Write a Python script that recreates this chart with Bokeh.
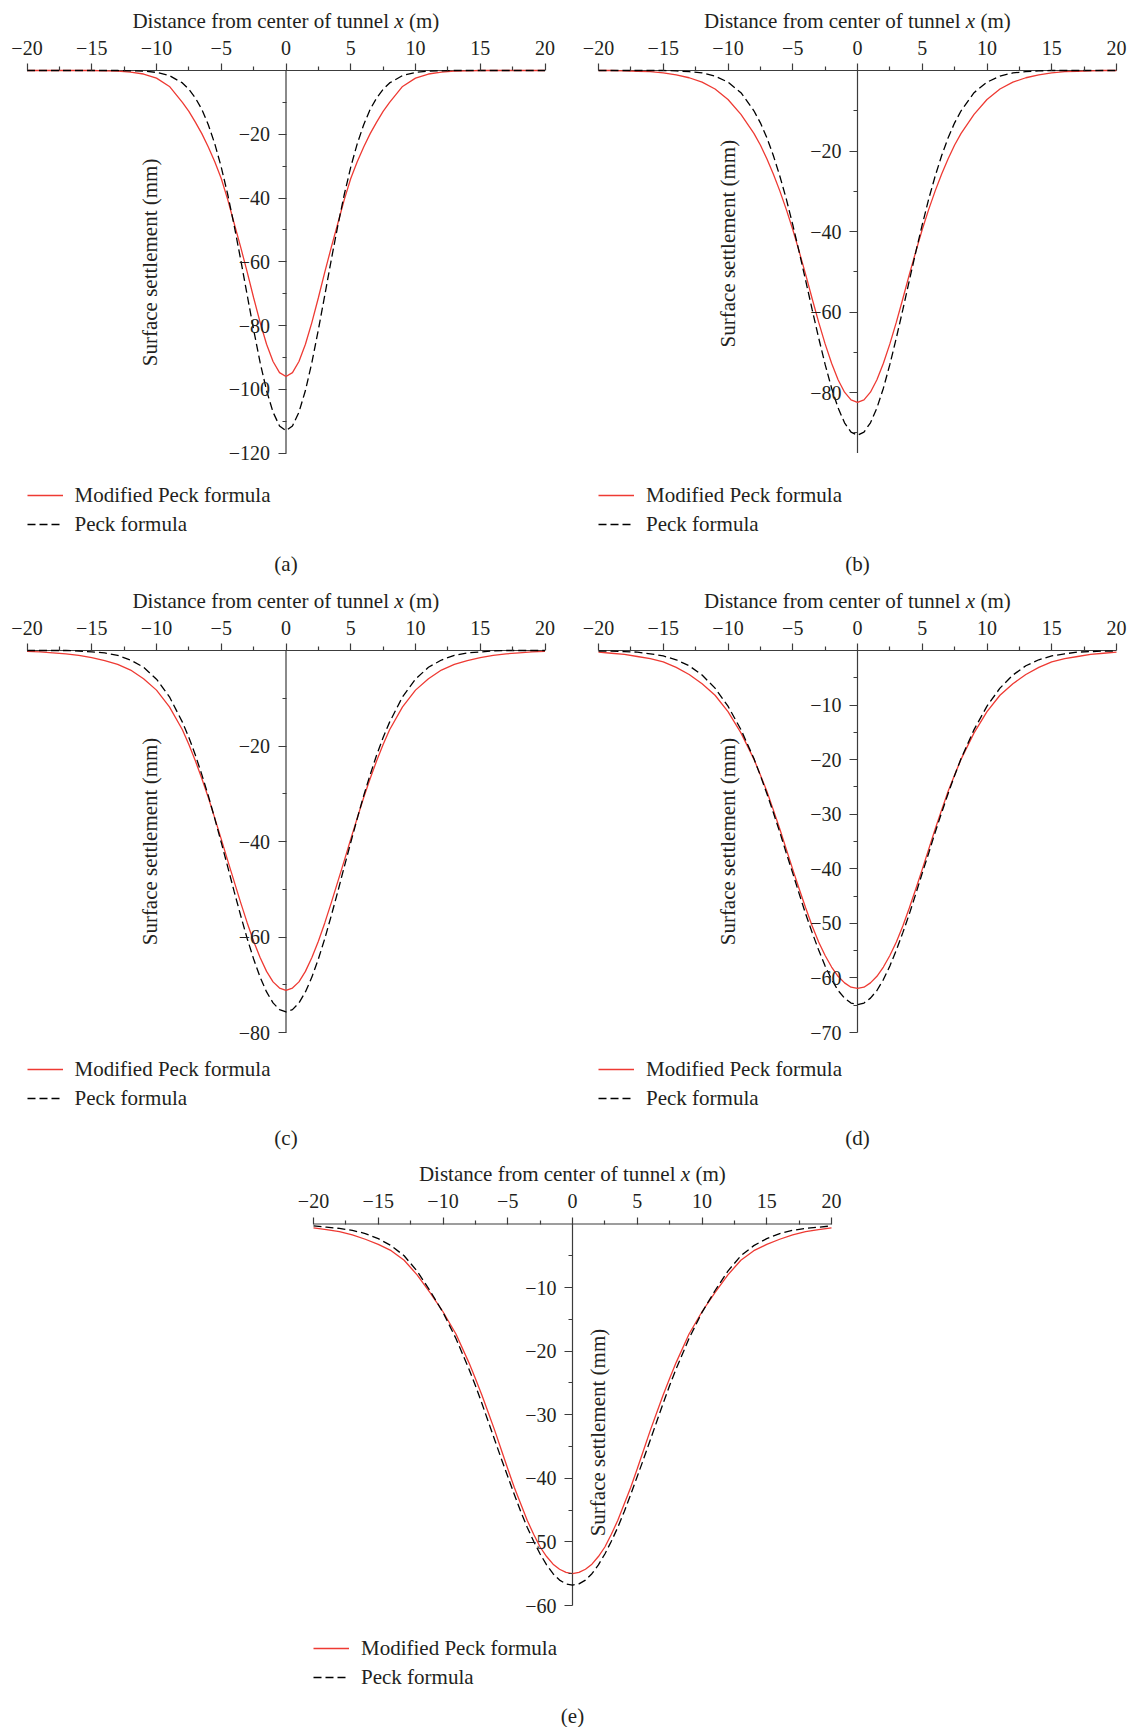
import math
from bokeh.plotting import figure
from bokeh.models import (Range1d, FixedTicker, CustomJSTickFormatter, Label,
                          Legend, LegendItem)
from bokeh.layouts import column, row
from bokeh.embed import file_html
from bokeh.resources import INLINE

# ---------------- data ----------------
X = [-20, -19, -18, -17, -16, -15, -14, -13, -12, -11, -10, -9,
     -8, -7.5, -7, -6.5, -6, -5.5, -5, -4.5, -4, -3.5, -3, -2.5, -2, -1.5, -1, -0.5,
     0,
     0.5, 1, 1.5, 2, 2.5, 3, 3.5, 4, 4.5, 5, 5.5, 6, 6.5, 7, 7.5, 8,
     9, 10, 11, 12, 13, 14, 15, 16, 17, 18, 19, 20]

a_mod = [0, 0, 0, 0, 0, 0, -0.1, -0.2, -0.5, -1.1, -2.4, -5.0,
         -10.0, -12.8, -16.2, -19.8, -24.0, -28.6, -33.9, -40.5, -48.0, -55.4, -63.2, -71.3, -79.0, -85.9, -91.3, -94.8,
         -96.0,
         -94.8, -91.3, -85.9, -79.0, -71.3, -63.2, -55.4, -48.0, -40.5, -33.9, -28.6, -24.0, -19.8, -16.2, -12.8, -10.0,
         -5.0, -2.4, -1.1, -0.5, -0.2, -0.1, 0, 0, 0, 0, 0, 0]
a_peck = [0, 0, 0, 0, 0, 0, 0, 0, -0.1, -0.2, -0.6, -1.6,
          -3.9, -5.9, -8.6, -12.2, -17.0, -23.0, -30.3, -38.9, -48.7, -59.3, -70.4, -81.3, -91.6, -100.4, -107.2, -111.5,
          -113.0,
          -111.5, -107.2, -100.4, -91.6, -81.3, -70.4, -59.3, -48.7, -38.9, -30.3, -23.0, -17.0, -12.2, -8.6, -5.9, -3.9,
          -1.6, -0.6, -0.2, -0.1, 0, 0, 0, 0, 0, 0, 0, 0]

b_mod = [0, 0, -0.1, -0.2, -0.3, -0.6, -1.1, -1.8, -2.9, -4.6, -7.2, -10.9,
         -15.6, -18.5, -21.9, -25.7, -29.9, -34.5, -39.5, -45.0, -50.7, -56.7, -62.5, -67.9, -72.7, -76.8, -79.9, -81.8,
         -82.4,
         -81.8, -79.9, -76.8, -72.7, -67.9, -62.5, -56.7, -50.7, -45.0, -39.5, -34.5, -29.9, -25.7, -21.9, -18.5, -15.6,
         -10.9, -7.2, -4.6, -2.9, -1.8, -1.1, -0.6, -0.3, -0.2, -0.1, 0, 0]
b_peck = [0, 0, 0, 0, 0, 0, -0.1, -0.3, -0.6, -1.4, -2.9, -5.5,
          -10.0, -13.0, -16.7, -21.1, -26.2, -31.9, -38.3, -45.1, -52.2, -59.4, -66.4, -73.0, -78.9, -83.8, -87.5, -89.8,
          -90.6,
          -89.8, -87.5, -83.8, -78.9, -73.0, -66.4, -59.4, -52.2, -45.1, -38.3, -31.9, -26.2, -21.1, -16.7, -13.0, -10.0,
          -5.5, -2.9, -1.4, -0.6, -0.3, -0.1, 0, 0, 0, 0, 0, 0]

c_mod = [-0.2, -0.3, -0.5, -0.7, -1.0, -1.5, -2.1, -2.9, -4.1, -5.9, -8.3, -11.8,
         -16.6, -19.7, -23.1, -26.8, -30.8, -35.1, -39.5, -44.0, -48.4, -52.8, -57.0, -60.9, -64.3, -67.2, -69.4, -70.7,
         -71.2,
         -70.7, -69.4, -67.2, -64.3, -60.9, -57.0, -52.8, -48.4, -44.0, -39.5, -35.1, -30.8, -26.8, -23.1, -19.7, -16.6,
         -11.8, -8.3, -5.9, -4.1, -2.9, -2.1, -1.5, -1.0, -0.7, -0.5, -0.3, -0.2]
c_peck = [0, 0, 0, 0, -0.1, -0.3, -0.5, -1.0, -2.0, -3.5, -6.0, -9.7,
          -15.0, -18.2, -21.9, -26.0, -30.4, -35.2, -40.2, -45.3, -50.5, -55.5, -60.3, -64.6, -68.4, -71.5, -73.8, -75.2,
          -75.7,
          -75.2, -73.8, -71.5, -68.4, -64.6, -60.3, -55.5, -50.5, -45.3, -40.2, -35.2, -30.4, -26.0, -21.9, -18.2, -15.0,
          -9.7, -6.0, -3.5, -2.0, -1.0, -0.5, -0.3, -0.1, 0, 0, 0, 0]

d_mod = [-0.3, -0.5, -0.7, -1.1, -1.5, -2.1, -3.1, -4.4, -6.1, -8.2, -11.2, -15.1,
         -19.9, -22.8, -25.8, -29.2, -32.7, -36.4, -40.1, -43.7, -47.2, -50.5, -53.4, -55.9, -58.0, -59.7, -60.9, -61.7,
         -61.9,
         -61.7, -60.9, -59.7, -58.0, -55.9, -53.4, -50.5, -47.2, -43.7, -40.1, -36.4, -32.7, -29.2, -25.8, -22.8, -19.9,
         -15.1, -11.2, -8.2, -6.1, -4.4, -3.1, -2.1, -1.5, -1.1, -0.7, -0.5, -0.3]
d_peck = [-0.1, -0.1, -0.2, -0.3, -0.6, -1.0, -1.7, -2.8, -4.5, -6.9, -10.2, -14.5,
          -19.8, -22.9, -26.2, -29.7, -33.3, -37.1, -40.8, -44.6, -48.3, -51.7, -54.9, -57.8, -60.3, -62.3, -63.7, -64.6,
          -64.9,
          -64.6, -63.7, -62.3, -60.3, -57.8, -54.9, -51.7, -48.3, -44.6, -40.8, -37.1, -33.3, -29.7, -26.2, -22.9, -19.8,
          -14.5, -10.2, -6.9, -4.5, -2.8, -1.7, -1.0, -0.6, -0.3, -0.2, -0.1, -0.1]

e_mod = [-0.6, -0.9, -1.2, -1.7, -2.4, -3.2, -4.2, -5.7, -8.0, -10.8, -13.8, -17.3,
         -21.8, -24.3, -26.9, -29.7, -32.5, -35.5, -38.5, -41.4, -44.0, -46.6, -48.8, -50.8, -52.3, -53.5, -54.3, -54.8,
         -55.0,
         -54.8, -54.3, -53.5, -52.3, -50.8, -48.8, -46.6, -44.0, -41.4, -38.5, -35.5, -32.5, -29.7, -26.9, -24.3, -21.8,
         -17.3, -13.8, -10.8, -8.0, -5.7, -4.2, -3.2, -2.4, -1.7, -1.2, -0.9, -0.6]
e_peck = [-0.3, -0.5, -0.7, -1.0, -1.5, -2.3, -3.4, -5.0, -7.4, -10.5, -13.9, -18.0,
          -22.8, -25.4, -28.2, -31.1, -34.0, -36.9, -39.7, -42.5, -45.2, -47.7, -49.9, -51.9, -53.6, -55.0, -56.0, -56.6,
          -56.8,
          -56.6, -56.0, -55.0, -53.6, -51.9, -49.9, -47.7, -45.2, -42.5, -39.7, -36.9, -34.0, -31.1, -28.2, -25.4, -22.8,
          -18.0, -13.9, -10.5, -7.4, -5.0, -3.4, -2.3, -1.5, -1.0, -0.7, -0.5, -0.3]

X_MIN, X_MAX = -20, 20
X_TICKS = [-20, -15, -10, -5, 0, 5, 10, 15, 20]
X_MINOR = [-17.5, -12.5, -7.5, -2.5, 2.5, 7.5, 12.5, 17.5]

Y_TICKS_A = [-20, -40, -60, -80, -100, -120]
Y_MINOR_A = [-10, -30, -50, -70, -90, -110]
Y_TICKS_B = [-20, -40, -60, -80]
Y_MINOR_B = [-10, -30, -50, -70, -90]
Y_TICKS_C = [-20, -40, -60, -80]
Y_MINOR_C = [-10, -30, -50, -70]
Y_TICKS_D = [-10, -20, -30, -40, -50, -60, -70]
Y_MINOR_D = [-5, -15, -25, -35, -45, -55, -65]
Y_TICKS_E = [-10, -20, -30, -40, -50, -60]
Y_MINOR_E = [-5, -15, -25, -35, -45, -55]

X_TITLE_LEFT = "Distance from center of tunnel"
X_TITLE_VAR = "x"
X_TITLE_UNIT = "(m)"
Y_TITLE = "Surface settlement (mm)"
LEG_MOD = "Modified Peck formula"
LEG_PECK = "Peck formula"

# ---------------- style ----------------
FONT = "Liberation Serif"
FS = "21px"
TICK_FS = "20px"
TEXT = "#231f20"
AXIS = "#3c3c3c"
RED = "#ee3a33"
FRAME_W = 518  # pixel width of the -20..20 span

FMT = "return tick < 0 ? '\u2212' + Math.abs(tick) : String(tick);"


def style_axis(ax, ticks, minor, tick_len):
    ax.ticker = FixedTicker(ticks=ticks, minor_ticks=minor)
    ax.formatter = CustomJSTickFormatter(code=FMT)
    ax.axis_line_color = None
    ax.major_tick_line_color = AXIS
    ax.minor_tick_line_color = AXIS
    ax.major_tick_line_width = 1.2
    ax.minor_tick_line_width = 1.2
    ax.major_tick_in = 0
    ax.major_tick_out = tick_len
    ax.minor_tick_in = 0
    ax.minor_tick_out = 4
    ax.major_label_text_font = FONT
    ax.major_label_text_font_size = TICK_FS
    ax.major_label_text_color = TEXT


def panel(W, H, L, T, B, ymin, yticks, yminor, mod, peck,
          tag, ylab_x, ylab_y, leg_bottom, tag_gap):
    # pixel layout -> data ranges (frame covers the whole canvas)
    sx = FRAME_W / (X_MAX - X_MIN)
    sy = (B - T) / (0 - ymin)
    xr = Range1d(X_MIN - L / sx, X_MAX + (W - L - FRAME_W) / sx)
    yr = Range1d(ymin - (H - B) / sy, 0 + T / sy)

    p = figure(width=W, height=H, x_range=xr, y_range=yr,
               x_axis_location="above", y_axis_location="left",
               output_backend="svg", toolbar_location=None,
               min_border=0, min_border_left=0, min_border_right=0,
               min_border_top=0, min_border_bottom=0)
    p.outline_line_color = None
    p.xgrid.visible = False
    p.ygrid.visible = False
    p.background_fill_color = "white"
    p.border_fill_color = "white"

    xa = p.xaxis[0]
    xa.fixed_location = 0
    style_axis(xa, X_TICKS, X_MINOR, 7)
    xa.major_label_standoff = 9

    ya = p.yaxis[0]
    ya.fixed_location = 0
    style_axis(ya, yticks, yminor, 8)
    ya.major_label_standoff = 8

    # axis lines
    p.segment(x0=[X_MIN], y0=[0], x1=[X_MAX], y1=[0], line_color=AXIS, line_width=1.2)
    p.segment(x0=[0], y0=[0], x1=[0], y1=[ymin], line_color=AXIS, line_width=1.2)

    r_mod = p.line(X, mod, line_color=RED, line_width=1.3)
    r_peck = p.line(X, peck, line_color="black", line_width=1.3, line_dash="8 4")

    leg = Legend(items=[LegendItem(label=LEG_MOD, renderers=[r_mod]),
                        LegendItem(label=LEG_PECK, renderers=[r_peck])],
                 location=(L, H - leg_bottom), orientation="vertical",
                 padding=0, margin=0, spacing=3,
                 glyph_width=36, glyph_height=26, label_height=26,
                 label_standoff=12, label_text_font=FONT,
                 label_text_font_size=FS, label_text_color=TEXT,
                 border_line_alpha=0, background_fill_alpha=0)
    p.add_layout(leg)

    # x-axis title (with italic x)
    common = dict(y=0, y_units="data", x_units="data", y_offset=50,
                  text_font=FONT, text_font_size=FS, text_color=TEXT,
                  text_baseline="middle")
    p.add_layout(Label(x=0, x_offset=103, text=X_TITLE_LEFT, text_align="right", **common))
    p.add_layout(Label(x=0, x_offset=113, text=X_TITLE_VAR, text_align="center",
                       text_font_style="italic", **common))
    p.add_layout(Label(x=0, x_offset=123, text=X_TITLE_UNIT, text_align="left", **common))

    # y-axis title
    p.add_layout(Label(x=ylab_x, y=ylab_y, text=Y_TITLE, angle=math.pi / 2,
                       text_align="center", text_baseline="middle",
                       text_font=FONT, text_font_size=FS, text_color=TEXT))
    # panel tag
    p.add_layout(Label(x=0, y=ymin, y_offset=-tag_gap, text=tag,
                       text_align="center", text_baseline="middle",
                       text_font=FONT, text_font_size=FS, text_color=TEXT))
    return p


# row 1: canvas top at page 0
pa = panel(571, 588, 26.5, 70, 452.5, -120, Y_TICKS_A, Y_MINOR_A, a_mod, a_peck,
           "(a)", -10.47, -60.2, 537, 111)
pb = panel(564, 588, 27, 70, 452.5, -95, Y_TICKS_B, Y_MINOR_B, b_mod, b_peck,
           "(b)", -10.03, -43.0, 537, 111)
# row 2: canvas top at page 588
pc = panel(571, 574, 26.5, 62, 444, -80, Y_TICKS_C, Y_MINOR_C, c_mod, c_peck,
           "(c)", -10.47, -40.0, 523, 105)
pd = panel(564, 574, 27, 62, 444, -70, Y_TICKS_D, Y_MINOR_D, d_mod, d_peck,
           "(d)", -10.03, -35.0, 523, 105)
# row 3: canvas top at page 1162
pe = panel(1135, 565, 313, 61.5, 443, -60, Y_TICKS_E, Y_MINOR_E, e_mod, e_peck,
           "(e)", 2.0, -32.8, 528, 110)

layout = column(row(pa, pb), row(pc, pd), pe)

with open("out.html", "w") as f:
    f.write(file_html(layout, INLINE, title="Surface settlement"))
